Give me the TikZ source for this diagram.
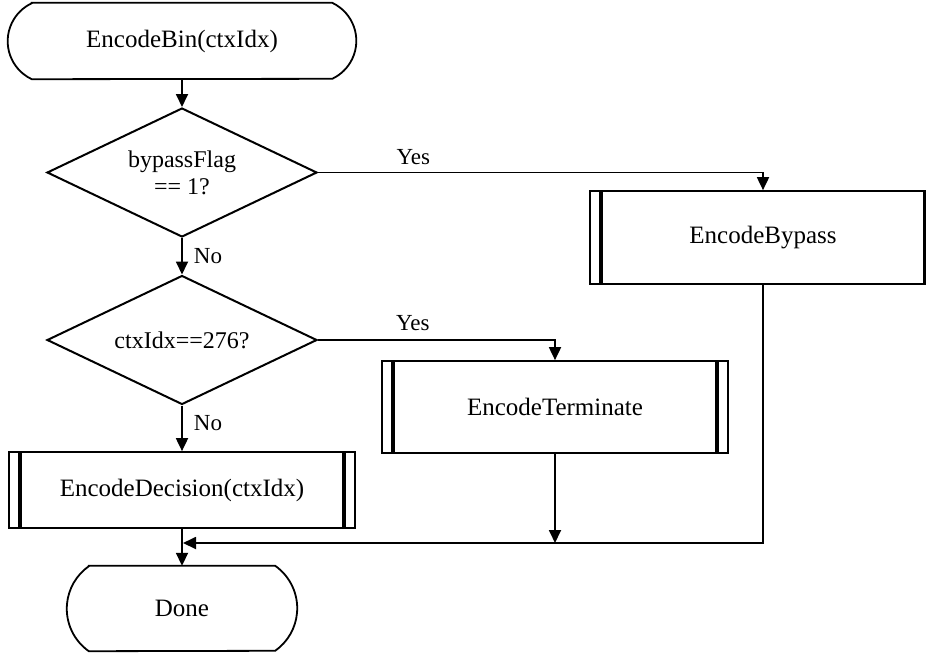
\documentclass[tikz,border=0pt]{standalone}
\usepackage{fontspec}
\setmainfont{Liberation Serif}
\usetikzlibrary{shapes.geometric,arrows.meta}
\begin{document}
\begin{tikzpicture}[x=1pt,y=1pt,
  boxfont/.style={font=\fontsize{25}{28}\selectfont},
  outline/.style={line width=1.8pt, line join=miter},
  terminal/.style={boxfont, inner sep=0pt, anchor=center},
  decision/.style={diamond, draw, line width=2pt, inner sep=0pt, aspect=2.1,
    minimum width=270pt, minimum height=129pt, align=center,
    font=\fontsize{24}{27}\selectfont},
  predef/.style={rectangle, draw, line width=1.7pt, inner sep=0pt, boxfont,
    path picture={
      \draw[line width=3.2pt]
        ([xshift=11pt]path picture bounding box.north west) --
        ([xshift=11pt]path picture bounding box.south west)
        ([xshift=-11pt]path picture bounding box.north east) --
        ([xshift=-11pt]path picture bounding box.south east);}},
  conn/.style={line width=1.8pt, -{Triangle[length=13pt,width=12pt]}},
  lbl/.style={font=\fontsize{23}{25}\selectfont, inner sep=2pt}
]
\useasboundingbox (0,0) rectangle (926,-654);
\clip (0,0) rectangle (926,-654);

% terminals
\node[terminal, minimum width=348pt, minimum height=76pt] (start) at (182,-41) {EncodeBin(ctxIdx)};
\draw[outline] ([xshift=24pt]start.north west) -- ([xshift=-24pt]start.north east)
  arc[start angle=64.8, end angle=-64.8, radius=42pt]
  -- ([xshift=24pt]start.south west)
  arc[start angle=244.8, end angle=115.2, radius=42pt] -- cycle;

\node[terminal, minimum width=230pt, minimum height=85pt] (done) at (182,-608.5) {Done};
\draw[outline] ([xshift=22pt]done.north west) -- ([xshift=-22pt]done.north east)
  arc[start angle=54.8, end angle=-54.8, radius=52pt]
  -- ([xshift=22pt]done.south west)
  arc[start angle=234.8, end angle=125.2, radius=52pt] -- cycle;

% decisions
\node[decision] (d1) at (182,-172.5) {bypassFlag\\== 1?};
\node[decision] (d2) at (182,-340) {ctxIdx==276?};

% predefined processes
\node[predef, minimum width=346pt, minimum height=93pt] (bypass) at (763,-237.5) {EncodeBypass};
\node[predef, minimum width=346pt, minimum height=92pt] (term) at (555,-407) {EncodeTerminate};
\node[predef, minimum width=346pt, minimum height=76pt] (dec) at (182,-490) {EncodeDecision(ctxIdx)};

\coordinate (m) at (182,-543);

% connectors
\draw[conn] (start.south) -- (d1.north);
\draw[conn] (d1.east) -- node[lbl, above, pos=0.214, yshift=5pt] {Yes} (d1.east -| bypass.north) -- (bypass.north);
\draw[conn] (d1.south) -- node[lbl, anchor=west, xshift=9pt] {No} (d2.north);
\draw[conn] (d2.east) -- node[lbl, above, pos=0.40, yshift=6pt] {Yes} (d2.east -| term.north) -- (term.north);
\draw[conn] (d2.south) -- node[lbl, anchor=west, xshift=9pt, pos=0.375] {No} (dec.north);
\draw[conn] (dec.south) -- (done.north);
\draw[conn] (term.south) -- (term.south |- m);
\draw[conn, shorten >=1pt] (bypass.south) |- (m);
\end{tikzpicture}
\end{document}
